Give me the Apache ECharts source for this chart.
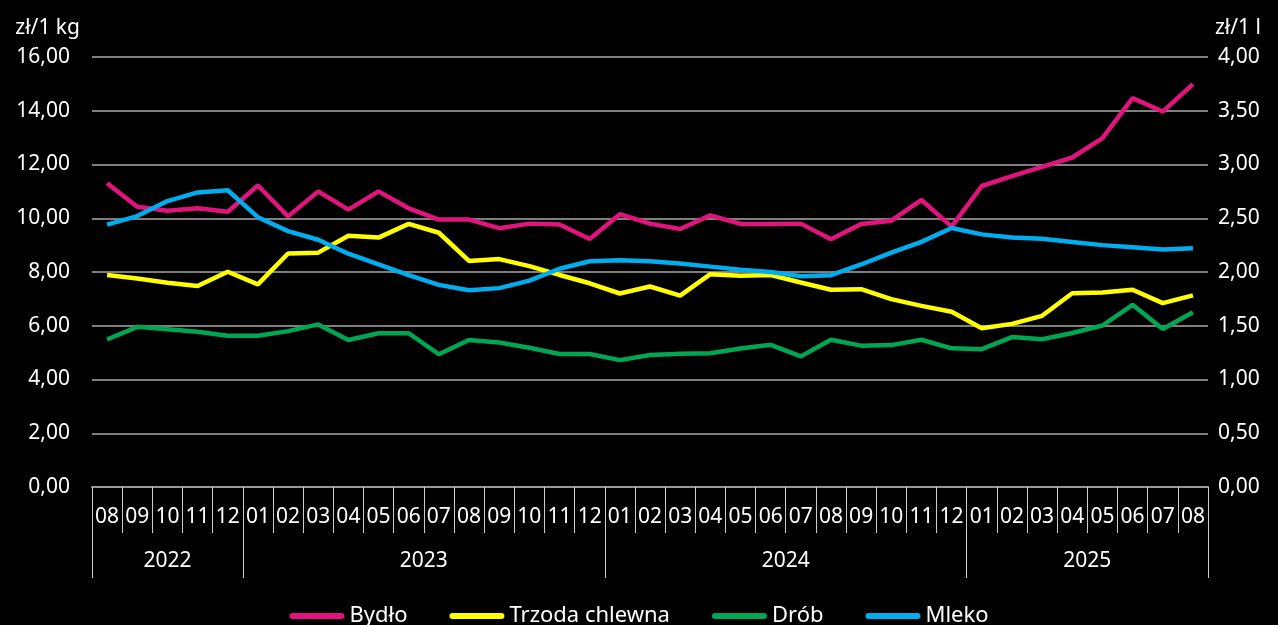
<!DOCTYPE html>
<html>
<head>
<meta charset="utf-8">
<style>
  html, body { margin: 0; padding: 0; background: #000; }
  #chart { width: 1278px; height: 625px; }
</style>
<script src="https://cdn.jsdelivr.net/npm/echarts@6/dist/echarts.min.js"></script>
</head>
<body>
<div id="chart"></div>
<script>
// miesiące 08.2022 - 08.2025
const months = ['08', '09', '10', '11', '12',
  '01', '02', '03', '04', '05', '06', '07', '08', '09', '10', '11', '12',
  '01', '02', '03', '04', '05', '06', '07', '08', '09', '10', '11', '12',
  '01', '02', '03', '04', '05', '06', '07', '08']
const years = ['2022', '2023', '2024', '2025']
const monthsInYear = [5, 12, 12, 8]

// ceny zł/1 kg (lewa oś)
const bydlo = [11.30, 10.43, 10.28, 10.37, 10.24, 11.22, 10.07, 11.00, 10.32, 11.00, 10.37, 9.95, 9.95,
  9.63, 9.80, 9.77, 9.23, 10.15, 9.80, 9.60, 10.11, 9.79, 9.79, 9.80, 9.22, 9.79, 9.91, 10.68, 9.69,
  11.20, 11.57, 11.91, 12.26, 12.98, 14.47, 13.97, 14.99]
const trzoda = [7.89, 7.76, 7.60, 7.48, 8.01, 7.54, 8.69, 8.72, 9.35, 9.28, 9.79, 9.46, 8.41,
  8.48, 8.22, 7.89, 7.58, 7.20, 7.46, 7.12, 7.92, 7.86, 7.89, 7.61, 7.34, 7.36, 6.99, 6.74, 6.52,
  5.91, 6.07, 6.37, 7.21, 7.24, 7.34, 6.84, 7.13]
const drob = [5.49, 5.96, 5.87, 5.78, 5.63, 5.63, 5.80, 6.05, 5.47, 5.72, 5.72, 4.94, 5.47,
  5.38, 5.18, 4.95, 4.95, 4.72, 4.91, 4.96, 4.98, 5.15, 5.29, 4.86, 5.48, 5.26, 5.28, 5.48, 5.16,
  5.13, 5.58, 5.50, 5.73, 6.01, 6.78, 5.88, 6.50]
// zł/1 l (prawa oś)
const mleko = [2.44, 2.52, 2.66, 2.74, 2.76, 2.51, 2.38, 2.30, 2.17, 2.07, 1.97, 1.88, 1.83,
  1.85, 1.92, 2.03, 2.10, 2.11, 2.10, 2.08, 2.05, 2.02, 2.00, 1.96, 1.97, 2.07, 2.18, 2.28, 2.41,
  2.35, 2.32, 2.31, 2.28, 2.25, 2.23, 2.21, 2.22]

// granice lat i środki etykiet
const yearBounds = [0]
monthsInYear.forEach(n => yearBounds.push(yearBounds[yearBounds.length - 1] + n))
const yearMids = years.map((y, i) => (yearBounds[i] + yearBounds[i + 1]) / 2)

const font = '"Noto Sans", Roboto, sans-serif'
const fmt = v => v.toFixed(2).replace('.', ',')

const chart = echarts.init(document.getElementById('chart'))
const option = {
  backgroundColor: '#000',
  textStyle: { fontFamily: font },
  grid: { left: 92, right: 70, top: 57, bottom: 138 },
  legend: {
    top: 600,
    left: 'center',
    itemWidth: 55,
    itemHeight: 6,
    itemGap: 42,
    icon: 'path://M3,0H52A3,3,0,0,1,52,6H3A3,3,0,0,1,3,0Z',
    textStyle: { color: '#fff', fontSize: 22, fontFamily: font },
    data: ['Bydło', 'Trzoda chlewna', 'Drób', 'Mleko']
  },
  xAxis: [
    {
      type: 'category',
      data: months,
      boundaryGap: true,
      axisLine: { lineStyle: { color: '#999', width: 2 } },
      axisTick: { show: true, interval: 0, length: 46, lineStyle: { color: '#ccc', width: 1 } },
      axisLabel: { interval: 0, color: '#fff', fontSize: 21, margin: 20, fontFamily: font }
    },
    {
      type: 'value',
      position: 'bottom',
      min: 0,
      max: months.length,
      axisLine: { show: false },
      splitLine: { show: false },
      axisTick: { show: true, length: 91, customValues: yearBounds, lineStyle: { color: '#ccc', width: 1 } },
      axisLabel: {
        color: '#fff', fontSize: 21, margin: 64, fontFamily: font,
        customValues: yearMids,
        formatter: v => years[yearMids.indexOf(v)] || ''
      }
    }
  ],
  yAxis: [
    {
      type: 'value',
      min: 0,
      max: 16,
      interval: 2,
      name: 'zł/1 kg',
      nameLocation: 'end',
      nameGap: 29,
      nameTextStyle: { color: '#fff', fontSize: 21, align: 'right', verticalAlign: 'middle', padding: [0, 12, 0, 0], fontFamily: font },
      axisLine: { show: false },
      axisTick: { show: false },
      axisLabel: { color: '#fff', fontSize: 21, margin: 22, formatter: fmt, fontFamily: font },
      splitLine: { lineStyle: { color: '#aaa', width: 1.5 } }
    },
    {
      type: 'value',
      min: 0,
      max: 4,
      interval: 0.5,
      name: 'zł/1 l',
      nameLocation: 'end',
      nameGap: 29,
      nameTextStyle: { color: '#fff', fontSize: 21, align: 'left', verticalAlign: 'middle', padding: [0, 0, 0, 7], fontFamily: font },
      axisLine: { show: false },
      axisTick: { show: false },
      axisLabel: { color: '#fff', fontSize: 21, margin: 10, formatter: fmt, fontFamily: font },
      splitLine: { show: false }
    }
  ],
  series: [
    { name: 'Bydło', type: 'line', data: bydlo, symbol: 'none', color: '#e0147c', lineStyle: { width: 4.5 } },
    { name: 'Trzoda chlewna', type: 'line', data: trzoda, symbol: 'none', color: '#ffff00', lineStyle: { width: 4.5 } },
    { name: 'Drób', type: 'line', data: drob, symbol: 'none', color: '#00a651', lineStyle: { width: 4.5 } },
    { name: 'Mleko', type: 'line', data: mleko, yAxisIndex: 1, symbol: 'none', color: '#00aeef', lineStyle: { width: 4.5 } }
  ]
}
option && chart.setOption(option)
</script>
</body>
</html>
